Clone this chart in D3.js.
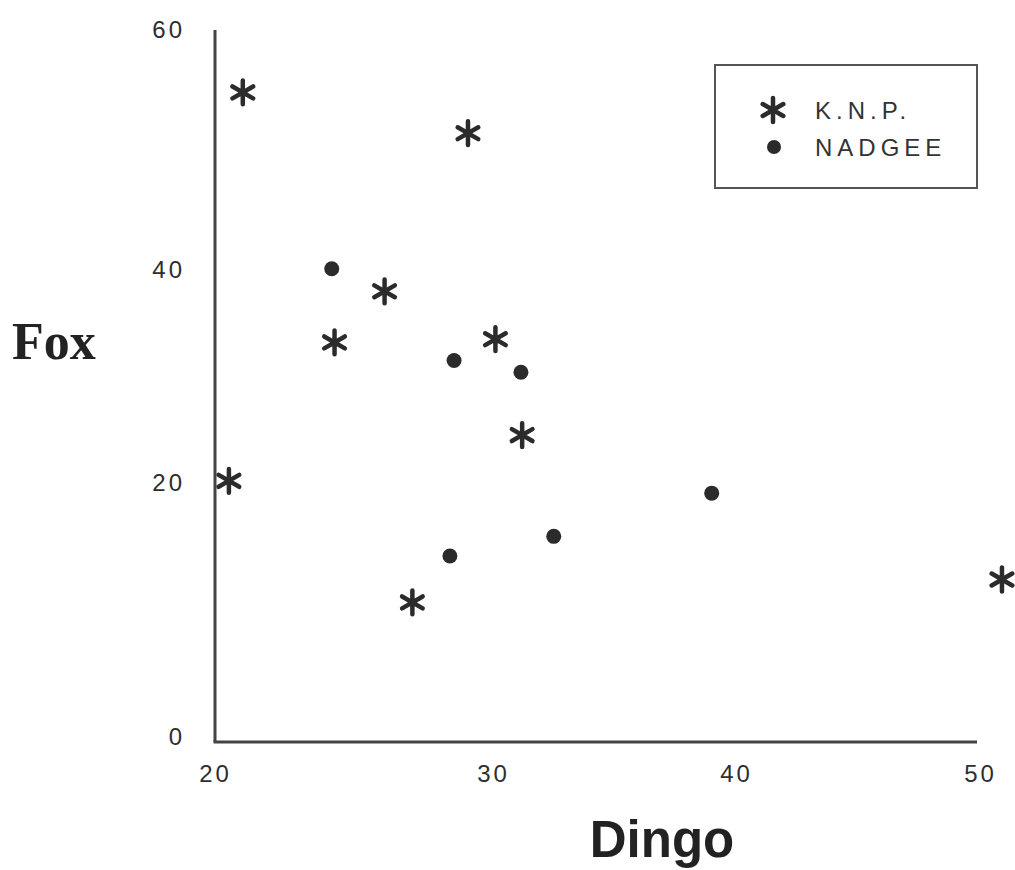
<!DOCTYPE html>
<html>
<head>
<meta charset="utf-8">
<script src="https://cdn.jsdelivr.net/npm/d3@7"></script>
<style>
  body { margin: 0; background: #fff; }
  svg text { fill: #333; }
</style>
</head>
<body>
<div id="chart"></div>
<script>
// Dingo vs Fox, two sites
const knpDingo = [21.0, 29.1, 26.1, 24.3, 30.1, 31.2, 20.5, 27.1, 50.9];
const knpFox   = [54.8, 51.4, 38.0, 33.2, 33.5, 24.5, 20.2, 10.6, 12.4];
const nadDingo = [24.2, 28.6, 31.15, 39.0, 32.5, 28.45];
const nadFox   = [40.1, 31.5, 30.4, 19.2, 15.8, 14.25];
const xTicks = [20, 30, 40, 50];
const yTicks = [0, 20, 40, 60];
const seriesNames = ["K.N.P.", "NADGEE"];

const knp = knpDingo.map((d, i) => ({dingo: d, fox: knpFox[i]}));
const nad = nadDingo.map((d, i) => ({dingo: d, fox: nadFox[i]}));

const svg = d3.select("#chart")
    .append("svg")
    .attr("width", 1015)
    .attr("height", 870);

// scanned figure is not perfectly linear, so piecewise scales
const x = d3.scaleLinear().domain(xTicks).range([215, 493, 736, 980]);
const y = d3.scaleLinear().domain(yTicks).range([737, 483, 270, 30]);
const baseY = y(0) + 5;

const tickFont = "'Liberation Sans', Arial, sans-serif";

// axes
const xAxis = svg.append("g")
    .attr("transform", `translate(0,${baseY})`)
    .call(d3.axisBottom(x).tickValues(xTicks).tickSize(0).tickPadding(23));
xAxis.select(".domain").remove();

const yAxis = svg.append("g")
    .attr("transform", `translate(${x(20)},0)`)
    .call(d3.axisLeft(y).tickValues(yTicks).tickSize(0).tickPadding(30));
yAxis.select(".domain").remove();

svg.selectAll(".tick text")
    .attr("font-family", tickFont)
    .attr("font-size", 24)
    .attr("letter-spacing", 3)
    .style("fill", "#2e2e2e");

// axis lines
svg.append("line")
    .attr("x1", x(20)).attr("x2", x(20))
    .attr("y1", y(60)).attr("y2", baseY)
    .attr("stroke", "#444").attr("stroke-width", 3);
svg.append("line")
    .attr("x1", x(20) - 1.5).attr("x2", x(50) - 3)
    .attr("y1", baseY).attr("y2", baseY)
    .attr("stroke", "#444").attr("stroke-width", 3);

// axis titles
svg.append("text")
    .attr("x", 662).attr("y", 857)
    .attr("text-anchor", "middle")
    .attr("font-family", "'Liberation Sans', Arial, sans-serif")
    .attr("font-weight", "bold")
    .attr("font-size", 51)
    .style("fill", "#222")
    .text("Dingo");

svg.append("text")
    .attr("x", 12).attr("y", 359)
    .attr("font-family", "'Liberation Serif', 'Times New Roman', serif")
    .attr("font-weight", "bold")
    .attr("font-size", 52)
    .style("fill", "#222")
    .text("Fox");

// marks
const star = d3.symbol().type(d3.symbolAsterisk).size(400);

svg.append("g")
    .selectAll("path")
    .data(knp)
    .join("path")
    .attr("transform", d => `translate(${x(d.dingo)},${y(d.fox)})`)
    .attr("d", star)
    .attr("fill", "none")
    .attr("stroke", "#2b2b2b")
    .attr("stroke-width", 4.5)
    .attr("stroke-linecap", "round");

svg.append("g")
    .selectAll("circle")
    .data(nad)
    .join("circle")
    .attr("cx", d => x(d.dingo))
    .attr("cy", d => y(d.fox))
    .attr("r", 7.5)
    .attr("fill", "#2b2b2b");

// legend
const legend = svg.append("g");
legend.append("rect")
    .attr("x", 715).attr("y", 65)
    .attr("width", 262).attr("height", 123)
    .attr("fill", "none")
    .attr("stroke", "#555")
    .attr("stroke-width", 2);

legend.append("path")
    .attr("transform", "translate(773,110)")
    .attr("d", star)
    .attr("fill", "none")
    .attr("stroke", "#2b2b2b")
    .attr("stroke-width", 4.5)
    .attr("stroke-linecap", "round");
legend.append("circle")
    .attr("cx", 774).attr("cy", 147)
    .attr("r", 7)
    .attr("fill", "#2b2b2b");

legend.selectAll("text")
    .data(seriesNames)
    .join("text")
    .attr("x", 815)
    .attr("y", (d, i) => 110 + i * 37)
    .attr("dy", "0.36em")
    .attr("font-family", tickFont)
    .attr("font-size", 24)
    .attr("letter-spacing", 5)
    .text(d => d);
</script>
</body>
</html>
